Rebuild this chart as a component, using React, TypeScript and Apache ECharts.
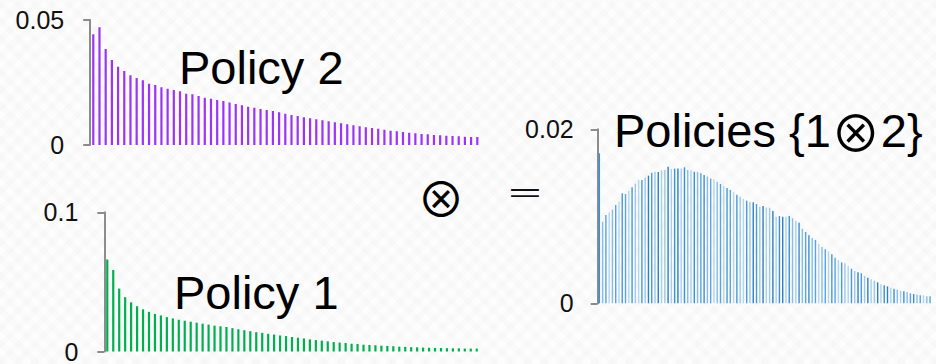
import React, { useEffect, useRef } from "react";
import * as echarts from "echarts";

// ---- data ----
const policy2Values = [
  0.0443, 0.0471, 0.0384, 0.034, 0.0313, 0.0296, 0.0279, 0.0268, 0.0259, 0.0245,
  0.024, 0.0231, 0.0225, 0.022, 0.0215, 0.0205, 0.0203, 0.0196, 0.0189, 0.0185,
  0.018, 0.0176, 0.017, 0.0164, 0.0159, 0.0153, 0.0149, 0.0144, 0.014, 0.0136,
  0.0131, 0.0125, 0.012, 0.0116, 0.0111, 0.0107, 0.0103, 0.0099, 0.0095, 0.0091,
  0.0087, 0.0083, 0.0079, 0.0075, 0.0071, 0.0068, 0.0065, 0.0061, 0.0057, 0.0055,
  0.0052, 0.0049, 0.0047, 0.0044, 0.0043, 0.004, 0.0039, 0.0037, 0.0036, 0.0035,
  0.0033, 0.0032, 0.0032,
];

const policy1Values = [
  0.0661, 0.0586, 0.0452, 0.039, 0.0353, 0.0325, 0.0303, 0.0285, 0.027, 0.0259,
  0.0247, 0.0238, 0.0228, 0.0221, 0.0214, 0.0207, 0.02, 0.0193, 0.0186, 0.0181,
  0.0176, 0.0168, 0.016, 0.0153, 0.0146, 0.0139, 0.0134, 0.0127, 0.0122, 0.0115,
  0.0111, 0.0104, 0.0099, 0.0094, 0.0087, 0.0082, 0.0078, 0.0073, 0.0068, 0.0064,
  0.0061, 0.0056, 0.0054, 0.0049, 0.0047, 0.0045, 0.0042, 0.004, 0.0038, 0.0035,
  0.0033, 0.0031, 0.003, 0.0028, 0.0027, 0.0026, 0.0025, 0.0024, 0.0023, 0.0023,
  0.0021, 0.0021, 0.0021,
];

const combinedValues = [
  0.01724, 0.00938, 0.01015, 0.01046, 0.01076, 0.0113, 0.01168, 0.01264, 0.01256, 0.01291,
  0.01333, 0.01375, 0.01417, 0.01417, 0.01444, 0.01467, 0.01501, 0.01513, 0.0151, 0.01529,
  0.01532, 0.0157, 0.01544, 0.01548, 0.01548, 0.01548, 0.01563, 0.01532, 0.01529, 0.01513,
  0.0151, 0.01494, 0.01475, 0.01456, 0.01433, 0.01425, 0.01398, 0.01371, 0.01348, 0.01325,
  0.01302, 0.01276, 0.01249, 0.01226, 0.01199, 0.0118, 0.01168, 0.01161, 0.01141, 0.0111,
  0.01118, 0.01099, 0.01099, 0.01061, 0.00995, 0.01003, 0.00995, 0.00995, 0.01003, 0.00977,
  0.00946, 0.00926, 0.00857, 0.0082, 0.00781, 0.0075, 0.00728, 0.00682, 0.00647, 0.00621,
  0.00598, 0.00563, 0.00525, 0.00498, 0.00471, 0.0046, 0.00429, 0.00398, 0.00371, 0.00356,
  0.00345, 0.00314, 0.00295, 0.00276, 0.0026, 0.00241, 0.00218, 0.00207, 0.00195, 0.00179,
  0.00168, 0.00157, 0.00145, 0.00138, 0.0013, 0.00115, 0.00107, 0.00099, 0.00092, 0.00092,
  0.0008, 0.0008,
];

const policy2Bins = policy2Values.map((_, i) => String(i + 1));
const policy1Bins = policy1Values.map((_, i) => String(i + 1));
const combinedBins = combinedValues.map((_, i) => String(i + 1));

const policy2Max = 0.05;
const policy1Max = 0.1;
const combinedMax = 0.02;

const titlePolicy2 = "Policy 2";
const titlePolicy1 = "Policy 1";
// rendered as "Policies {1⊗2}" with the operator styled separately
const titleCombinedRich = "Policies {1{op|\u2297}2}";
const operatorTimes = "\u2297";
const operatorEquals = "=";

// ---- styles ----
const FONT = '"Liberation Sans", Arial, sans-serif';
const SYMBOL_FONT = '"Noto Sans CJK SC", "DejaVu Sans", sans-serif';
const AXIS_GRAY = "#8c8c8c";
const PURPLE = "#9b35f5";
const GREEN = "#00b050";
const BLUES = ["#3d8fd6", "#9cc8eb", "#5aa3de", "#a8d0ef", "#4a9ad9", "#86bce6", "#2f7fc6", "#b2d5f0"];

function yAxisFor(gridIndex: number, max: number, margin: number) {
  return {
    type: "value",
    gridIndex,
    min: 0,
    max,
    interval: max,
    splitLine: { show: false },
    axisLine: { show: true, lineStyle: { color: AXIS_GRAY, width: 2 } },
    axisTick: { show: true, inside: false, length: 7, lineStyle: { color: AXIS_GRAY, width: 2 } },
    axisLabel: {
      show: true,
      margin,
      color: "#111",
      fontSize: 25,
      fontFamily: FONT,
      formatter: (v: number) => (v === 0 ? "0" : String(v)),
    },
  };
}

function xAxisFor(gridIndex: number, data: string[]) {
  return {
    type: "category",
    gridIndex,
    data,
    boundaryGap: true,
    show: false,
  };
}

export default function App() {
  const ref = useRef<HTMLDivElement>(null);

  useEffect(() => {
    if (!ref.current) return;
    const chart = echarts.init(ref.current, undefined, { renderer: "svg" });
    const titleStyle = { fontSize: 47, fontFamily: FONT, fill: "#000", verticalAlign: "middle" };
    const option = {
      animation: false,
      backgroundColor: "transparent",
      grid: [
        { left: 90.2, top: 20, width: 390.2, height: 125 },
        { left: 104.3, top: 212.3, width: 375.4, height: 141.7 },
        { left: 597.7, top: 129.3, width: 334, height: 174 },
      ],
      xAxis: [
        xAxisFor(0, policy2Bins),
        xAxisFor(1, policy1Bins),
        xAxisFor(2, combinedBins),
      ],
      yAxis: [
        yAxisFor(0, policy2Max, 26),
        yAxisFor(1, policy1Max, 26),
        yAxisFor(2, combinedMax, 24),
      ],
      series: [
        {
          type: "bar",
          xAxisIndex: 0,
          yAxisIndex: 0,
          data: policy2Values,
          barWidth: 2.2,
          itemStyle: { color: PURPLE },
        },
        {
          type: "bar",
          xAxisIndex: 1,
          yAxisIndex: 1,
          data: policy1Values,
          barWidth: 2.2,
          itemStyle: { color: GREEN },
        },
        {
          type: "bar",
          xAxisIndex: 2,
          yAxisIndex: 2,
          data: combinedValues,
          barWidth: 1.4,
          itemStyle: {
            color: (p: any) => BLUES[(p.dataIndex * 5 + (p.dataIndex >> 2)) % BLUES.length],
          },
        },
      ],
      graphic: [
        { type: "text", x: 179, y: 67.2, style: { ...titleStyle, text: titlePolicy2 } },
        { type: "text", x: 174, y: 292.2, style: { ...titleStyle, text: titlePolicy1 } },
        {
          type: "text",
          x: 614,
          y: 130,
          style: {
            ...titleStyle,
            text: titleCombinedRich,
            rich: {
              op: { fontFamily: SYMBOL_FONT, fontSize: 50, fill: "#000" },
            },
          },
        },
        {
          type: "text",
          x: 441,
          y: 195.5,
          style: {
            text: operatorTimes,
            fontSize: 48,
            fontFamily: SYMBOL_FONT,
            fill: "#000",
            align: "center",
            verticalAlign: "middle",
          },
        },
        {
          type: "text",
          x: 525,
          y: 191.5,
          scaleX: 2.2,
          style: {
            text: operatorEquals,
            fontSize: 26,
            fontFamily: FONT,
            fill: "#111",
            align: "center",
            verticalAlign: "middle",
          },
        },
      ],
    };
    chart.setOption(option as any);
    return () => chart.dispose();
  }, []);

  return (
    <div
      style={{
        position: "absolute",
        left: 0,
        top: 0,
        width: 936,
        height: 364,
        background:
          "repeating-linear-gradient(45deg, rgba(0,0,0,0.012) 0px, rgba(0,0,0,0.012) 6px, rgba(0,0,0,0) 6px, rgba(0,0,0,0) 12px), repeating-linear-gradient(-45deg, rgba(0,0,0,0.012) 0px, rgba(0,0,0,0.012) 6px, rgba(0,0,0,0) 6px, rgba(0,0,0,0) 12px), #fdfdfd",
      }}
    >
      <div ref={ref} style={{ width: 936, height: 364 }} />
    </div>
  );
}
